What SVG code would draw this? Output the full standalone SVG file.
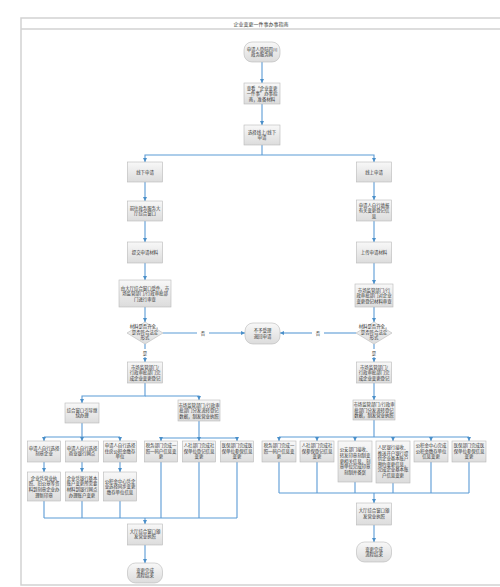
<svg xmlns="http://www.w3.org/2000/svg" width="500" height="587" viewBox="0 0 500 587">
<defs>
<linearGradient id="g" x1="0" y1="0" x2="0" y2="1"><stop offset="0" stop-color="#f8f8f8"/><stop offset="1" stop-color="#dcdcdc"/></linearGradient>
<marker id="a" markerUnits="userSpaceOnUse" markerWidth="4" markerHeight="4" refX="4" refY="2" orient="auto"><path d="M0,0 L4,2 L0,4 z" fill="#4a8fc9"/></marker>
</defs>
<style>
.n{fill:url(#g);stroke:#b8b8b8;stroke-width:0.6}
.t{font-family:"Noto Sans CJK SC","Noto Sans",sans-serif;font-size:4.4px;fill:#333;text-anchor:middle}
.c path{fill:none;stroke:#5b9bd5;stroke-width:1.1}
.c path.m{marker-end:url(#a)}
.f{fill:none;stroke:#d2d2d2;stroke-width:1.5}
</style>
<rect width="500" height="587" fill="#fff"/>
<g id="frame">
<rect class="f" x="21" y="18" width="482" height="567"/>
<line class="f" x1="21" y1="29" x2="503" y2="29"/>
<text class="t" x="261" y="25.6" style="font-size:5px">企业变更一件事办事指南</text>
</g>
<g class="c" id="connectors">
<path class="m" d="M262,62 V83"/>
<path class="m" d="M262,104 V125"/>
<path d="M262,145 V155"/>
<path class="m" d="M262,155 H145 V162"/>
<path class="m" d="M262,155 H374 V162"/>
<path class="m" d="M145,182 V201"/>
<path class="m" d="M145,221 V242"/>
<path class="m" d="M145,263 V280"/>
<path class="m" d="M145,307 V322"/>
<path class="m" d="M374,182 V200"/>
<path class="m" d="M374,221 V242"/>
<path class="m" d="M374,263 V284"/>
<path class="m" d="M374,307 V322"/>
<path d="M163,333 H197"/>
<path class="m" d="M209,333 H245"/>
<path d="M356,333 H324"/>
<path class="m" d="M312,333 H280"/>
<path d="M145,344 V349"/>
<path class="m" d="M145,357 V362"/>
<path d="M374,344 V349"/>
<path class="m" d="M374,357 V362"/>
<path class="m" d="M145,383 V396 H82 V403"/>
<path class="m" d="M145,396 H199 V400"/>
<path class="m" d="M374,383 V400"/>
<path d="M82,423 V437 M44,437 H120"/>
<path class="m" d="M44,437 V441"/>
<path class="m" d="M82,437 V441"/>
<path class="m" d="M120,437 V441"/>
<path d="M199,421 V438 M161,438 H237"/>
<path class="m" d="M161,438 V441"/>
<path class="m" d="M199,438 V441"/>
<path class="m" d="M237,438 V441"/>
<path class="m" d="M44,462 V472"/>
<path class="m" d="M82,462 V472"/>
<path class="m" d="M120,462 V472"/>
<path d="M44,501 V518 M82,501 V518 M120,501 V518 M161,462 V518 M199,462 V518 M237,462 V518 M44,518 H237"/>
<path class="m" d="M145,518 V524"/>
<path class="m" d="M145,545 V563"/>
<path d="M374,420 V437 M279,437 H469"/>
<path class="m" d="M279,437 V441"/>
<path class="m" d="M317,437 V441"/>
<path class="m" d="M355,437 V441"/>
<path class="m" d="M393,437 V441"/>
<path class="m" d="M431,437 V441"/>
<path class="m" d="M469,437 V441"/>
<path d="M279,462 V493 M317,462 V493 M355,482 V493 M393,483 V493 M431,462 V493 M469,462 V493 M279,493 H469"/>
<path class="m" d="M374,493 V503"/>
<path class="m" d="M374,525 V542"/>
</g>
<g id="n-start"><rect class="n" x="244" y="42" width="36" height="20" rx="8"/><text class="t"><tspan x="262" y="50.8">申请人登陆四川</tspan><tspan x="262" y="56.4">政务服务网</tspan></text></g>
<g id="n-guide"><rect class="n" x="244" y="83" width="36" height="21"/><text class="t"><tspan x="262" y="89.5">查看“企业变更</tspan><tspan x="262" y="95.1">一件事”办事指</tspan><tspan x="262" y="100.7">南，准备材料</tspan></text></g>
<g id="n-choose"><rect class="n" x="244" y="125" width="36" height="20"/><text class="t"><tspan x="262" y="133.8">选择线上/线下</tspan><tspan x="262" y="139.4">申请</tspan></text></g>
<g id="n-offline"><rect class="n" x="127.5" y="162" width="35" height="20"/><text class="t" x="145" y="173.6">线下申请</text></g>
<g id="n-hall"><rect class="n" x="127.5" y="201" width="35" height="20"/><text class="t"><tspan x="145" y="209.8">前往政务服务大</tspan><tspan x="145" y="215.4">厅综合窗口</tspan></text></g>
<g id="n-submit"><rect class="n" x="127.5" y="242" width="35" height="21"/><text class="t" x="145" y="254.1">提交申请材料</text></g>
<g id="n-review-l"><rect class="n" x="119" y="280" width="52" height="27"/><text class="t"><tspan x="145" y="289.5">由大厅综合窗口受件，市</tspan><tspan x="145" y="295.1">场监管部门/行政审批部</tspan><tspan x="145" y="300.7">门进行审查</tspan></text></g>
<g id="n-online"><rect class="n" x="356.5" y="162" width="35" height="20"/><text class="t" x="374" y="173.6">线上申请</text></g>
<g id="n-fill"><rect class="n" x="356.5" y="200" width="35" height="21"/><text class="t"><tspan x="374" y="206.5">申请人自行填报</tspan><tspan x="374" y="212.1">有关变更登记信</tspan><tspan x="374" y="217.7">息</tspan></text></g>
<g id="n-upload"><rect class="n" x="356.5" y="242" width="35" height="21"/><text class="t" x="374" y="254.1">上传申请材料</text></g>
<g id="n-review-r"><rect class="n" x="355" y="284" width="38" height="23"/><text class="t"><tspan x="374" y="291.5">市场监管部门/行</tspan><tspan x="374" y="297.1">政审批部门对企业</tspan><tspan x="374" y="302.7">变更登记材料审查</tspan></text></g>
<g id="d-left"><polygon class="n" points="145,322 163,333 145,344 127,333"/><text class="t"><tspan x="145" y="327.9">材料是否齐全，</tspan><tspan x="145" y="333.5">是否符合法定</tspan><tspan x="145" y="339.1">形式</tspan></text></g>
<g id="d-right"><polygon class="n" points="374,322 392,333 374,344 356,333"/><text class="t"><tspan x="374" y="327.9">材料是否齐全，</tspan><tspan x="374" y="333.5">是否符合法定</tspan><tspan x="374" y="339.1">形式</tspan></text></g>
<g id="labels"><text class="t" x="203" y="334.6">否</text><text class="t" x="318" y="334.6">否</text><text class="t" x="145" y="354.6">是</text><text class="t" x="374" y="354.6">是</text></g>
<g id="n-reject"><rect class="n" x="245" y="323" width="35" height="21" rx="8"/><text class="t"><tspan x="262.5" y="332.3">不予受理</tspan><tspan x="262.5" y="337.9">退回申请</tspan></text></g>
<g id="n-done-l"><rect class="n" x="127.5" y="362" width="35" height="21"/><text class="t"><tspan x="145" y="368.5">市场监管部门/</tspan><tspan x="145" y="374.1">行政审批部门完</tspan><tspan x="145" y="379.7">成企业变更登记</tspan></text></g>
<g id="n-done-r"><rect class="n" x="356.5" y="362" width="35" height="21"/><text class="t"><tspan x="374" y="368.5">市场监管部门/</tspan><tspan x="374" y="374.1">行政审批部门完</tspan><tspan x="374" y="379.7">成企业变更登记</tspan></text></g>
<g id="n-window"><rect class="n" x="65" y="403" width="34" height="20"/><text class="t"><tspan x="82" y="411.8">综合窗口引导继</tspan><tspan x="82" y="417.4">续办理</tspan></text></g>
<g id="n-dist-l"><rect class="n" x="178" y="400" width="42" height="21"/><text class="t"><tspan x="199" y="406.5">市场监管部门/行政审</tspan><tspan x="199" y="412.1">批部门分发流转登记</tspan><tspan x="199" y="417.7">数据，制发营业执照</tspan></text></g>
<g id="n-dist-r"><rect class="n" x="353" y="400" width="42" height="20"/><text class="t"><tspan x="374" y="406">市场监管部门/行政审</tspan><tspan x="374" y="411.6">批部门分发流转登记</tspan><tspan x="374" y="417.2">数据，制发营业执照</tspan></text></g>
<g id="n-l1"><rect class="n" x="27.5" y="441" width="33" height="21"/><text class="t"><tspan x="44" y="449.8">申请人自行选择</tspan><tspan x="44" y="455.4">刻章企业</tspan></text></g>
<g id="n-l2"><rect class="n" x="65.5" y="441" width="33" height="21"/><text class="t"><tspan x="82" y="449.8">申请人自行选择</tspan><tspan x="82" y="455.4">商业银行网点</tspan></text></g>
<g id="n-l3"><rect class="n" x="103.5" y="441" width="33" height="21"/><text class="t"><tspan x="120" y="447">申请人自行选择</tspan><tspan x="120" y="452.6">住房公积金缴存</tspan><tspan x="120" y="458.2">单位</tspan></text></g>
<g id="n-l4"><rect class="n" x="27.5" y="472" width="33" height="29"/><text class="t"><tspan x="44" y="479.7">企业凭营业执</tspan><tspan x="44" y="485.3">照、旧公章等资</tspan><tspan x="44" y="490.9">料到刻章企业办</tspan><tspan x="44" y="496.5">理新印章</tspan></text></g>
<g id="n-l5"><rect class="n" x="65.5" y="472" width="33" height="29"/><text class="t"><tspan x="82" y="479.7">企业凭银行基本</tspan><tspan x="82" y="485.3">账户变更所需要</tspan><tspan x="82" y="490.9">材料到银行网点</tspan><tspan x="82" y="496.5">办理账户变更</tspan></text></g>
<g id="n-l6"><rect class="n" x="103.5" y="472" width="33" height="29"/><text class="t"><tspan x="120" y="482.5">公积金中心凭企</tspan><tspan x="120" y="488.1">业选择同步变更</tspan><tspan x="120" y="493.7">缴存单位信息</tspan></text></g>
<g id="n-m1"><rect class="n" x="144.5" y="441" width="33" height="21"/><text class="t"><tspan x="161" y="447">税务部门完成一</tspan><tspan x="161" y="452.6">照一码户信息变</tspan><tspan x="161" y="458.2">更</tspan></text></g>
<g id="n-m2"><rect class="n" x="182.5" y="441" width="33" height="21"/><text class="t"><tspan x="199" y="447">人社部门完成社</tspan><tspan x="199" y="452.6">保单位登记信息</tspan><tspan x="199" y="458.2">变更</tspan></text></g>
<g id="n-m3"><rect class="n" x="220.5" y="441" width="33" height="21"/><text class="t"><tspan x="237" y="447">医保部门完成医</tspan><tspan x="237" y="452.6">保单位参保信息</tspan><tspan x="237" y="458.2">变更</tspan></text></g>
<g id="n-hall-l"><rect class="n" x="127.5" y="524" width="35" height="21"/><text class="t"><tspan x="145" y="532.8">大厅综合窗口颁</tspan><tspan x="145" y="538.4">发营业执照</tspan></text></g>
<g id="n-end-l"><rect class="n" x="127.5" y="563" width="35" height="20" rx="8"/><text class="t"><tspan x="145" y="571.8">变更完成</tspan><tspan x="145" y="577.4">流程结束</tspan></text></g>
<g id="n-r1"><rect class="n" x="262" y="441" width="34" height="21"/><text class="t"><tspan x="279" y="447">税务部门完成一</tspan><tspan x="279" y="452.6">照一码户信息变</tspan><tspan x="279" y="458.2">更</tspan></text></g>
<g id="n-r2"><rect class="n" x="300" y="441" width="34" height="21"/><text class="t"><tspan x="317" y="447">人社部门完成社</tspan><tspan x="317" y="452.6">保参保登记信息</tspan><tspan x="317" y="458.2">变更</tspan></text></g>
<g id="n-r3"><rect class="n" x="338" y="441" width="34" height="41"/><text class="t"><tspan x="355" y="451.3">公安部门接收、</tspan><tspan x="355" y="456.9">转发印章刻制变</tspan><tspan x="355" y="462.5">更相关信息，刻</tspan><tspan x="355" y="468.1">章单位完成印章</tspan><tspan x="355" y="473.7">刻制并备案</tspan></text></g>
<g id="n-r4"><rect class="n" x="376" y="441" width="34" height="42"/><text class="t"><tspan x="393" y="449">人民银行接收、</tspan><tspan x="393" y="454.6">推送开户银行提</tspan><tspan x="393" y="460.2">供企业基本账户</tspan><tspan x="393" y="465.8">预约变更信息，</tspan><tspan x="393" y="471.4">完成企业基本账</tspan><tspan x="393" y="477">户信息变更</tspan></text></g>
<g id="n-r5"><rect class="n" x="414" y="441" width="34" height="21"/><text class="t"><tspan x="431" y="447">公积金中心完成</tspan><tspan x="431" y="452.6">公积金缴存单位</tspan><tspan x="431" y="458.2">信息变更</tspan></text></g>
<g id="n-r6"><rect class="n" x="452" y="441" width="34" height="21"/><text class="t"><tspan x="469" y="447">医保部门完成医</tspan><tspan x="469" y="452.6">保单位参保信息</tspan><tspan x="469" y="458.2">变更</tspan></text></g>
<g id="n-hall-r"><rect class="n" x="356.5" y="503" width="35" height="22"/><text class="t"><tspan x="374" y="512.3">大厅综合窗口颁</tspan><tspan x="374" y="517.9">发营业执照</tspan></text></g>
<g id="n-end-r"><rect class="n" x="356.5" y="542" width="35" height="20" rx="8"/><text class="t"><tspan x="374" y="550.8">变更完成</tspan><tspan x="374" y="556.4">流程结束</tspan></text></g>
</svg>
